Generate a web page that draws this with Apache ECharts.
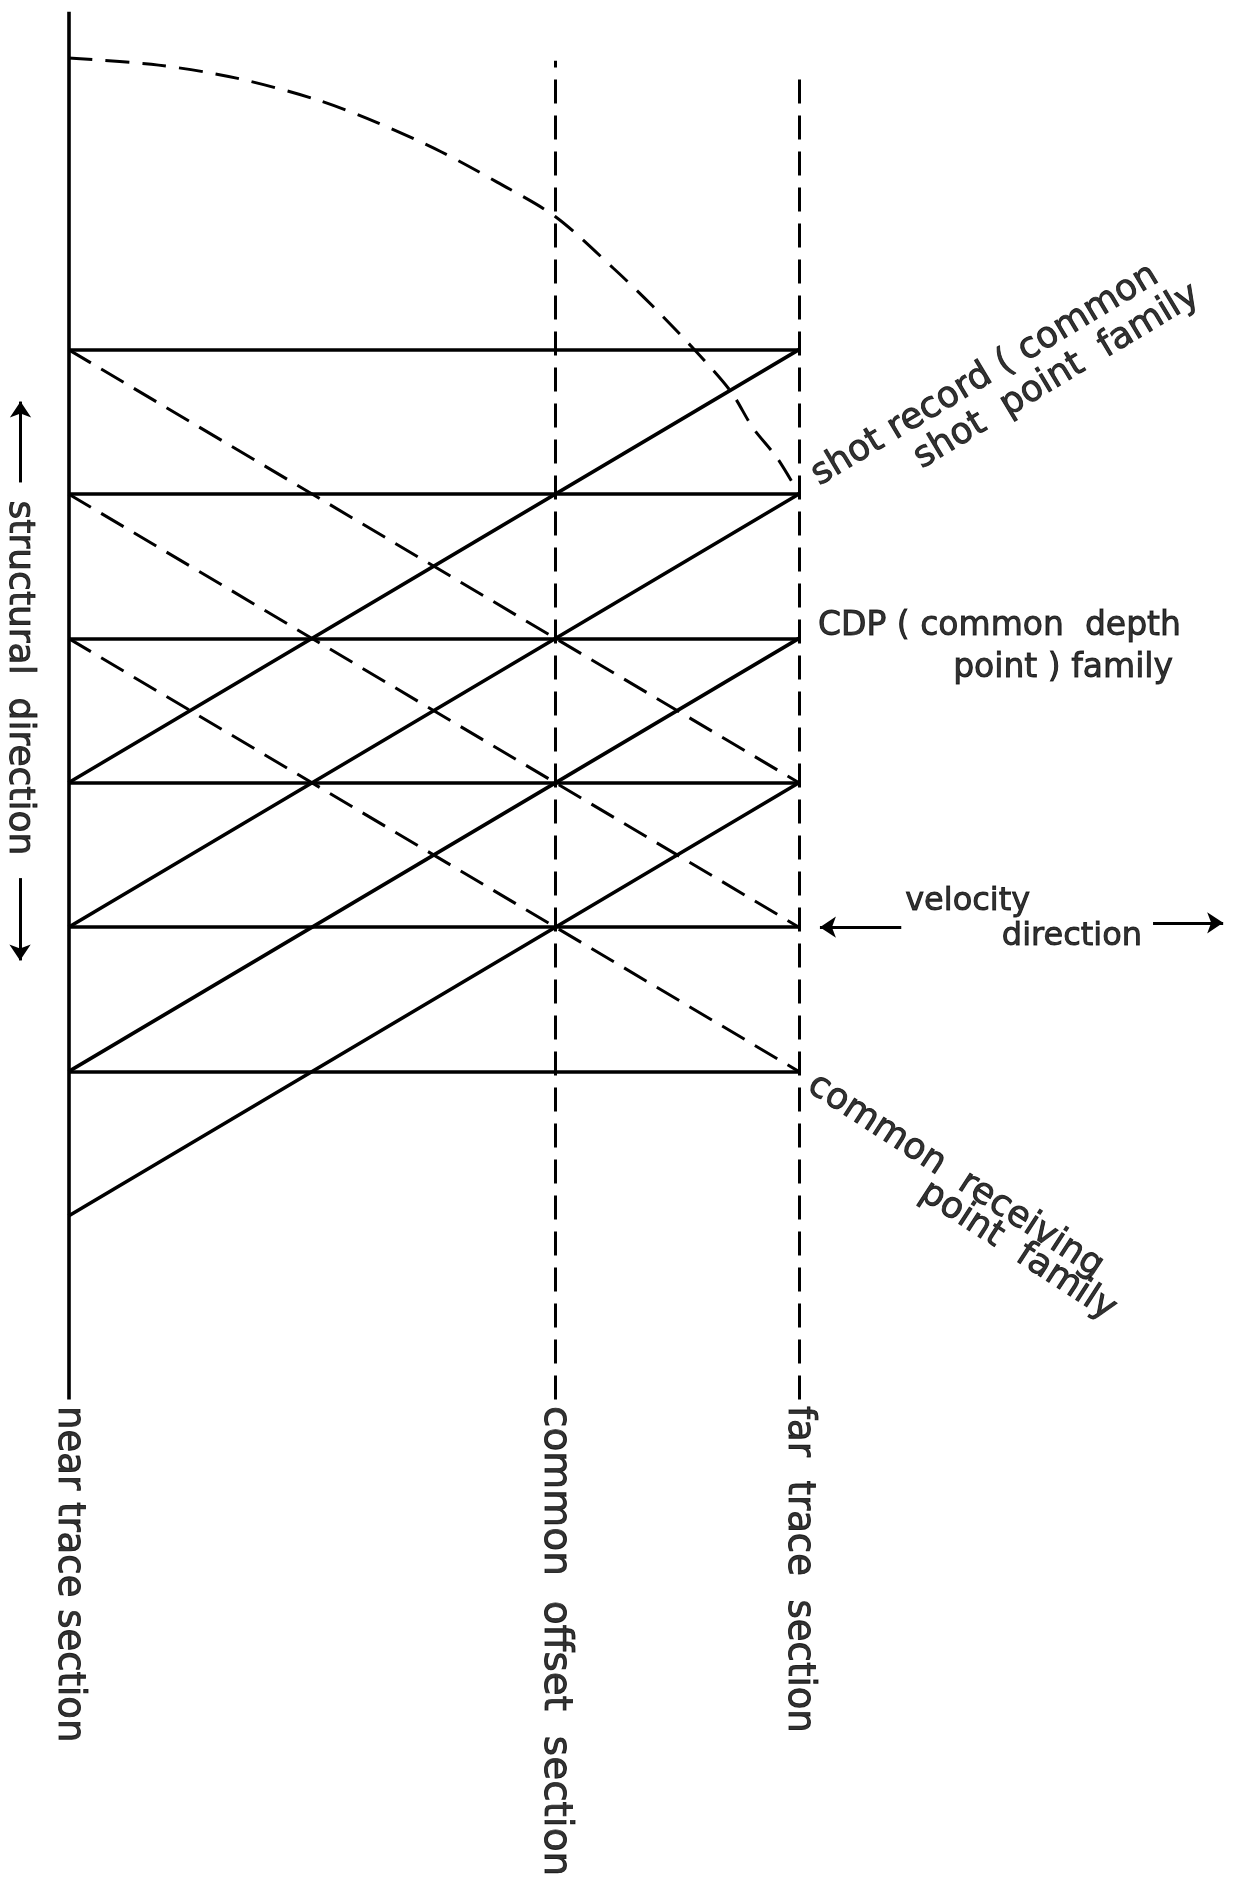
<!DOCTYPE html>
<html>
<head>
<meta charset="utf-8">
<script src="https://cdn.jsdelivr.net/npm/echarts@6/dist/echarts.min.js"></script>
<style>
  html, body { margin: 0; padding: 0; background: #fff; }
  #chart { width: 1235px; height: 1883px; }
</style>
</head>
<body>
<div id="chart"></div>
<script>
// x: trace position (near = 0, common offset = 2, far = 3)
// y: row index up the structural direction (lowest horizontal = 0)
var nearX = 0, offsetX = 2, farX = 3;
var rows = [0, 1, 2, 3, 4, 5];
var lineBottom = -2.27;
var sectionTops = [7.34, 7.0, 6.87];     // near, offset, far

// solid diagonals (shot record direction), start row at near trace -> end row at far trace
var shotStart = [2, 1, 0, -1];
var shotEnd   = [5, 4, 3, 2];
// dashed diagonals (common receiving point direction)
var recvStart = [5, 4, 3];
var recvEnd   = [2, 1, 0];

// dashed moveout curve
var curveX = [0, 0.37, 0.69, 1.02, 1.27, 1.53, 1.76, 2.0, 2.24, 2.4, 2.57, 2.72, 2.81, 2.91, 3.0];
var curveY = [7.02, 6.97, 6.88, 6.73, 6.57, 6.37, 6.16, 5.92, 5.56, 5.3, 5.0, 4.71, 4.46, 4.25, 4.0];

// arrows: [x1, y1, x2, y2] (arrow head at second point)
var arrowStructUp   = [-0.197, 4.08, -0.197, 4.64];
var arrowStructDown = [-0.199, 1.34, -0.199, 0.77];
var arrowVelLeft    = [3.42, 1.0, 3.086, 1.0];
var arrowVelRight   = [4.454, 1.03, 4.742, 1.03];

var labelText = [
  'shot record ( common', 'shot  point  family',
  'CDP ( common  depth', 'point ) family',
  'velocity', 'direction',
  'common  receiving', 'point  family',
  'structural  direction',
  'near trace section', 'common  offset  section', 'far  trace  section'
];
var labelAt = [
  [3.063, 4.113], [3.484, 4.231],
  [3.078, 3.086], [4.536, 2.795],
  [3.436, 1.174], [4.409, 0.931],
  [3.049, -0.072], [3.51, -0.816],
  [-0.203, 2.726],
  [0, -2.316], [2, -2.316], [3, -2.316]
];
var labelRot = [31, 31, 0, 0, 0, 0, -33, -33, -90, -90, -90, -90];
var labelAlign = ['left', 'left', 'left', 'right', 'left', 'right', 'left', 'left', 'center', 'left', 'left', 'left'];
var labelSize = [36, 36, 33, 33, 32, 32, 36, 36, 36, 37, 39, 37];

var ink = '#000';
var dashed = [26, 12];

function seg(x1, y1, x2, y2) { return { coords: [[x1, y1], [x2, y2]] }; }

var horizontals = rows.map(function (r) { return seg(nearX, r, farX, r); });
var shotDiag = shotStart.map(function (s, i) { return seg(nearX, s, farX, shotEnd[i]); });
var recvDiag = recvStart.map(function (s, i) { return seg(nearX, s, farX, recvEnd[i]); });
var curveData = curveX.map(function (x, i) { return [x, curveY[i]]; });

var labelData = labelText.map(function (t, i) {
  return {
    value: labelAt[i],
    label: {
      show: true,
      formatter: t,
      position: 'inside',
      rotate: labelRot[i],
      align: labelAlign[i],
      verticalAlign: 'middle',
      fontSize: labelSize[i],
      fontFamily: 'DejaVu Sans',
      color: ink,
      textBorderColor: ink,
      textBorderWidth: 0.9
    }
  };
});

var chart = echarts.init(document.getElementById('chart'));
chart.setOption({
  backgroundColor: '#fff',
  animation: false,
  grid: { left: 0, right: 0, top: 0, bottom: 0 },
  xAxis: { type: 'value', min: -0.2813, max: 4.7906, show: false },
  yAxis: { type: 'value', min: -5.619, max: 7.421, show: false },
  series: [
    {
      type: 'lines', coordinateSystem: 'cartesian2d', silent: true,
      lineStyle: { color: ink, width: 3.6, opacity: 1 },
      data: horizontals.concat(shotDiag, [seg(nearX, lineBottom, nearX, sectionTops[0])])
    },
    {
      type: 'lines', coordinateSystem: 'cartesian2d', silent: true,
      lineStyle: { color: ink, width: 3, type: dashed, opacity: 1 },
      data: recvDiag
    },
    {
      type: 'lines', coordinateSystem: 'cartesian2d', silent: true,
      lineStyle: { color: ink, width: 3, type: [24, 12], opacity: 1 },
      data: [seg(offsetX, lineBottom, offsetX, sectionTops[1]), seg(farX, lineBottom, farX, sectionTops[2])]
    },
    {
      type: 'line', silent: true, smooth: 0.3, showSymbol: false,
      lineStyle: { color: ink, width: 3, type: [24, 13] },
      data: curveData
    },
    {
      type: 'lines', coordinateSystem: 'cartesian2d', silent: true,
      symbol: ['none', 'arrow'], symbolSize: 16,
      lineStyle: { color: ink, width: 3, opacity: 1 },
      itemStyle: { color: ink },
      data: [arrowStructUp, arrowStructDown, arrowVelLeft, arrowVelRight].map(function (a) {
        return seg(a[0], a[1], a[2], a[3]);
      })
    },
    {
      type: 'scatter', silent: true, symbolSize: 0,
      data: labelData
    }
  ]
});
</script>
</body>
</html>
